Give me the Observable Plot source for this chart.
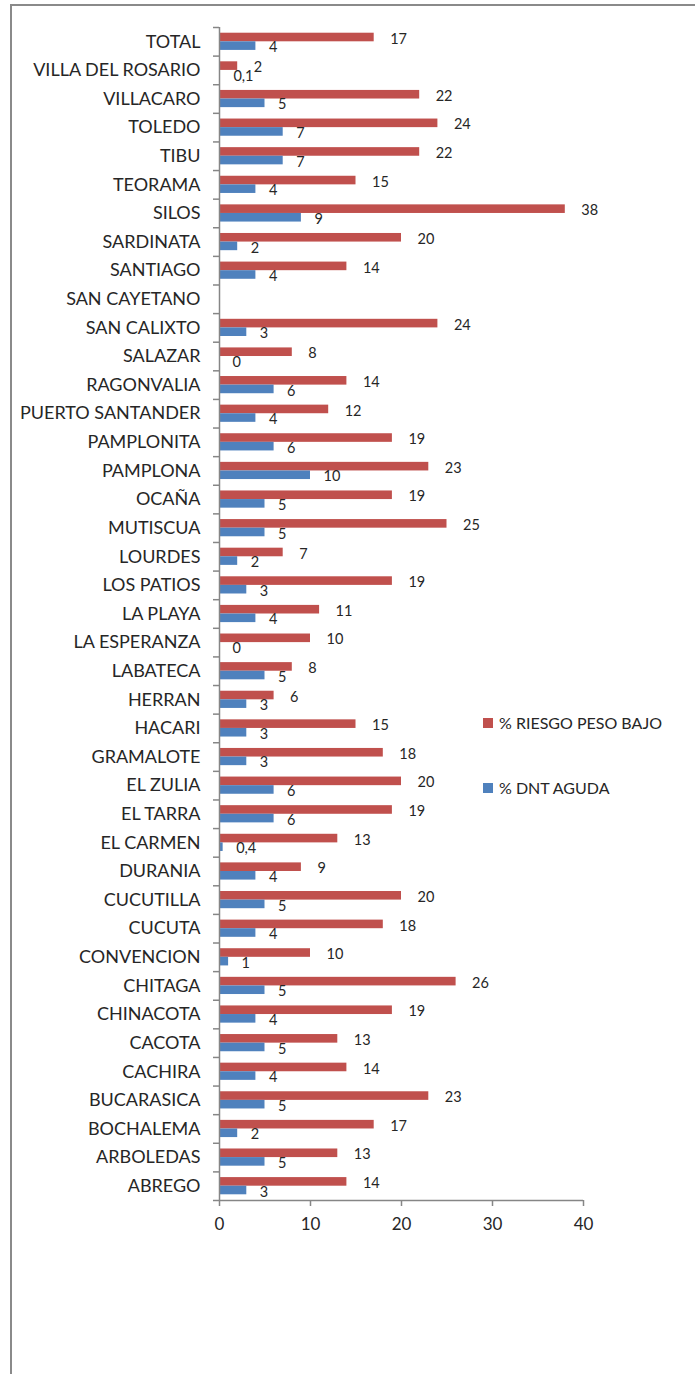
<!DOCTYPE html>
<html>
<head>
<meta charset="utf-8">
<script src="https://cdn.jsdelivr.net/npm/d3@7"></script>
<script src="https://cdn.jsdelivr.net/npm/@observablehq/plot@0.6"></script>
<style>
  html, body { margin: 0; padding: 0; background: #fff; }
  #wrap { position: relative; width: 695px; height: 1374px; overflow: hidden; font-family: Lato, "Open Sans", sans-serif; }
  #frame { position: absolute; left: 10px; top: 4px; width: 800px; height: 1500px; border-left: 2px solid #8a8a8a; border-top: 2px solid #8a8a8a; }
  #chart { position: absolute; left: 0; top: 0; }
  .leg { position: absolute; left: 483px; display: flex; align-items: center; font-size: 16px; color: #262626; }
  .leg span.sw { display: inline-block; width: 10px; height: 10px; margin-right: 6px; }
</style>
</head>
<body>
<div id="wrap">
  <div id="frame"></div>
  <div id="chart"></div>
  <div class="leg" style="top:713px"><span class="sw" style="background:#C0504D"></span><span id="l1"></span></div>
  <div class="leg" style="top:778px"><span class="sw" style="background:#4F81BD"></span><span id="l2"></span></div>
</div>
<script>
const categories = ["TOTAL","VILLA DEL ROSARIO","VILLACARO","TOLEDO","TIBU","TEORAMA","SILOS","SARDINATA","SANTIAGO","SAN CAYETANO","SAN CALIXTO","SALAZAR","RAGONVALIA","PUERTO SANTANDER","PAMPLONITA","PAMPLONA","OCAÑA","MUTISCUA","LOURDES","LOS PATIOS","LA PLAYA","LA ESPERANZA","LABATECA","HERRAN","HACARI","GRAMALOTE","EL ZULIA","EL TARRA","EL CARMEN","DURANIA","CUCUTILLA","CUCUTA","CONVENCION","CHITAGA","CHINACOTA","CACOTA","CACHIRA","BUCARASICA","BOCHALEMA","ARBOLEDAS","ABREGO"];
const riesgoPesoBajo = [17,2,22,24,22,15,38,20,14,null,24,8,14,12,19,23,19,25,7,19,11,10,8,6,15,18,20,19,13,9,20,18,10,26,19,13,14,23,17,13,14];
const dntAguda = [4,0.1,5,7,7,4,9,2,4,null,3,0,6,4,6,10,5,5,2,3,4,0,5,3,3,3,6,6,0.4,4,5,4,1,5,4,5,4,5,2,5,3];
const seriesNames = ["% RIESGO PESO BAJO", "% DNT AGUDA"];
const xTicks = [0, 10, 20, 30, 40];

document.getElementById("l1").textContent = seriesNames[0];
document.getElementById("l2").textContent = seriesNames[1];

const red = "#C0504D", blue = "#4F81BD", gray = "#868686";
const rows = categories.map((c, i) => ({cat: c, r: riesgoPesoBajo[i], b: dntAguda[i]}));
const redRows = rows.filter(d => d.r != null);
const blueRows = rows.filter(d => d.b != null);
const fmt = v => String(v).replace(".", ",");

const W = 695, H = 1250, mt = 27, mb = 50, ml = 219, mr = 112;
const step = (H - mt - mb) / categories.length;
const half = step / 2;
const barH = 8.6;

const chart = Plot.plot({
  width: W, height: H,
  marginLeft: ml, marginRight: mr, marginTop: mt, marginBottom: mb,
  style: {fontFamily: "Lato, 'Open Sans', sans-serif", color: "#262626", background: "transparent"},
  x: {domain: [0, 40], ticks: xTicks},
  y: {domain: categories, padding: 0, round: false},
  marks: [
    Plot.barX(redRows, {x: "r", y: "cat", fill: red, insetTop: half - barH, insetBottom: half}),
    Plot.barX(blueRows, {x: "b", y: "cat", fill: blue, insetTop: half, insetBottom: half - barH}),
    Plot.text(redRows, {x: "r", y: "cat", text: d => fmt(d.r), dx: 16, dy: -barH / 2 + 1.5, textAnchor: "start", fontSize: 14.5, fill: "#262626"}),
    Plot.text(blueRows, {x: "b", y: "cat", text: d => fmt(d.b), dx: 13, dy: barH / 2 + 1.5, textAnchor: "start", fontSize: 14.5, fill: "#262626"}),
    Plot.ruleX([0], {stroke: gray, strokeWidth: 1.5}),
    Plot.ruleY(categories, {y: d => d, x1: -0.66, x2: 0, dy: -half, stroke: gray, strokeWidth: 1.5}),
    Plot.ruleY([categories[categories.length - 1]], {y: d => d, x1: -0.66, x2: 40, dy: half, stroke: gray, strokeWidth: 1.5}),
    Plot.axisX({ticks: xTicks, tickSize: 6, tickPadding: 11, fontSize: 17, stroke: gray, strokeWidth: 1.5, label: null}),
    Plot.axisY({tickSize: 0, tickPadding: 19, fontSize: 18, label: null})
  ]
});
document.getElementById("chart").appendChild(chart);
</script>
</body>
</html>
